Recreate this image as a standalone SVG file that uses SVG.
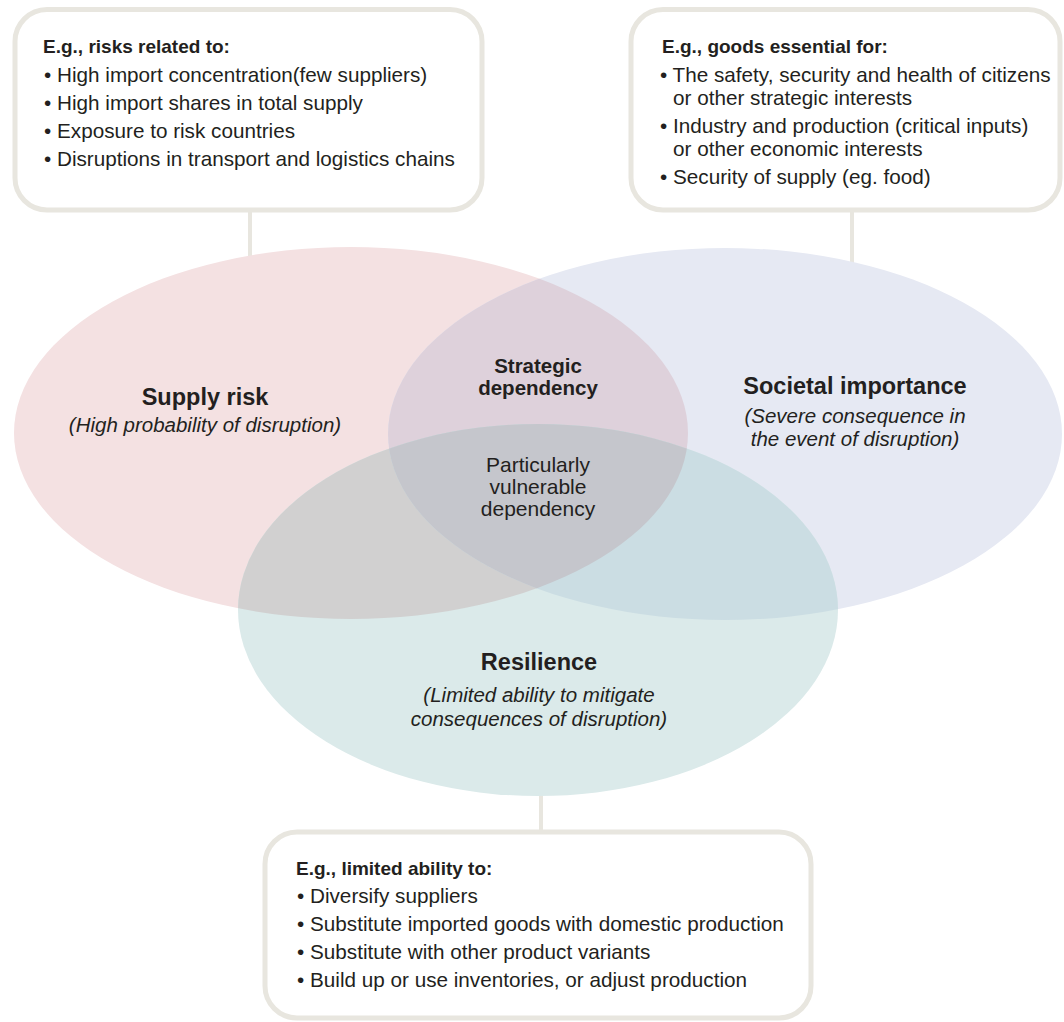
<svg xmlns="http://www.w3.org/2000/svg" width="1064" height="1022" viewBox="0 0 1064 1022">
<style>
text{font-family:"Liberation Sans",Arial,sans-serif;fill:#231f20}
.t{font-size:19px;font-weight:bold}
.b{font-size:20.7px}
.h{font-size:23.5px;font-weight:bold;text-anchor:middle}
.i{font-size:20.5px;font-style:italic;text-anchor:middle}
.c{font-size:21px;text-anchor:middle}
.cb{font-size:20.5px;font-weight:bold;text-anchor:middle}
.box{fill:#ffffff;stroke:#e8e6df;stroke-width:5}
.con{stroke:#e8e6df;stroke-width:4;fill:none}
</style>
<defs>
<clipPath id="clipR"><ellipse cx="351" cy="433" rx="337" ry="186"/></clipPath>
<clipPath id="clipB"><ellipse cx="725" cy="434" rx="337" ry="186"/></clipPath>
</defs>
<rect width="1064" height="1022" fill="#ffffff"/>
<g id="connectors">
<line class="con" x1="250" y1="210" x2="250" y2="270"/>
<line class="con" x1="852" y1="210" x2="852" y2="275"/>
<line class="con" x1="541" y1="780" x2="541" y2="832"/>
</g>
<g id="venn">
<ellipse id="supply-risk-shape" cx="351" cy="433" rx="337" ry="186" fill="#f4e1e2"/>
<ellipse id="societal-importance-shape" cx="725" cy="434" rx="337" ry="186" fill="#e6e9f3"/>
<ellipse id="resilience-shape" cx="538" cy="610" rx="300" ry="186" fill="#dbeaea"/>
<ellipse cx="725" cy="434" rx="337" ry="186" fill="#ded1db" clip-path="url(#clipR)"/>
<ellipse cx="538" cy="610" rx="300" ry="186" fill="#d1d0d0" clip-path="url(#clipR)"/>
<ellipse cx="538" cy="610" rx="300" ry="186" fill="#cbdde3" clip-path="url(#clipB)"/>
<g clip-path="url(#clipR)"><ellipse cx="538" cy="610" rx="300" ry="186" fill="#c5c6cc" clip-path="url(#clipB)"/></g>
</g>
<g id="supply-risk">
<text class="h" x="205" y="405">Supply risk</text>
<text class="i" x="205" y="432">(High probability of disruption)</text>
</g>
<g id="societal-importance">
<text class="h" x="855" y="394">Societal importance</text>
<text class="i" x="855" y="423">(Severe consequence in</text>
<text class="i" x="855" y="446">the event of disruption)</text>
</g>
<g id="resilience">
<text class="h" x="539" y="670">Resilience</text>
<text class="i" x="539" y="702">(Limited ability to mitigate</text>
<text class="i" x="539" y="726">consequences of disruption)</text>
</g>
<g id="strategic-dependency">
<text class="cb" x="538" y="373">Strategic</text>
<text class="cb" x="538" y="395">dependency</text>
</g>
<g id="vulnerable-dependency">
<text class="c" x="538" y="472">Particularly</text>
<text class="c" x="538" y="494">vulnerable</text>
<text class="c" x="538" y="516">dependency</text>
</g>
<g id="box-risks">
<rect class="box" x="15" y="9.5" width="467" height="200.5" rx="32"/>
<text class="t" x="43" y="53">E.g., risks related to:</text>
<text class="b" x="44" y="82">• High import concentration(few suppliers)</text>
<text class="b" x="44" y="110">• High import shares in total supply</text>
<text class="b" x="44" y="138">• Exposure to risk countries</text>
<text class="b" x="44" y="166">• Disruptions in transport and logistics chains</text>
</g>
<g id="box-goods">
<rect class="box" x="631" y="9.5" width="429" height="200.5" rx="32"/>
<text class="t" x="662" y="53">E.g., goods essential for:</text>
<text class="b" x="660" y="82">• The safety, security and health of citizens</text>
<text class="b" x="673" y="105">or other strategic interests</text>
<text class="b" x="660" y="133">• Industry and production (critical inputs)</text>
<text class="b" x="673" y="156">or other economic interests</text>
<text class="b" x="660" y="184">• Security of supply (eg. food)</text>
</g>
<g id="box-ability">
<rect class="box" x="265" y="832" width="546" height="186" rx="32"/>
<text class="t" x="296" y="875">E.g., limited ability to:</text>
<text class="b" x="297" y="903">• Diversify suppliers</text>
<text class="b" x="297" y="931">• Substitute imported goods with domestic production</text>
<text class="b" x="297" y="959">• Substitute with other product variants</text>
<text class="b" x="297" y="987">• Build up or use inventories, or adjust production</text>
</g>
</svg>
